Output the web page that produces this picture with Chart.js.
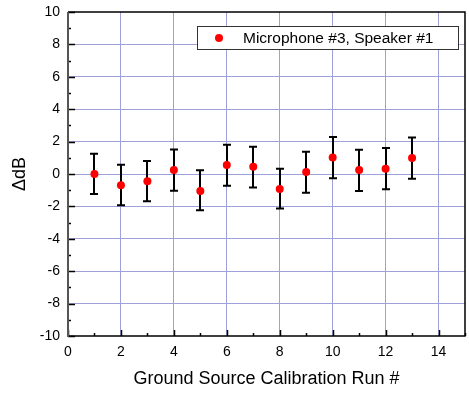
<!DOCTYPE html>
<html>
<head>
<meta charset="utf-8">
<script src="https://cdn.jsdelivr.net/npm/chart.js@4.4.1/dist/chart.umd.min.js"></script>
<style>
  html, body { margin: 0; padding: 0; background: #fff; }
  #wrap { width: 469px; height: 394px; }
</style>
</head>
<body>
<div id="wrap"><canvas id="c" width="469" height="394"></canvas></div>
<script>
// run numbers and measured offsets
const runs = [1, 2, 3, 4, 5, 6, 7, 8, 9, 10, 11, 12, 13];
const deltaDb = [0.0, -0.70, -0.45, 0.25, -1.05, 0.55, 0.45, -0.92, 0.12, 1.02, 0.25, 0.33, 0.98];
const errHigh = [1.25, 1.27, 1.25, 1.27, 1.28, 1.25, 1.23, 1.25, 1.25, 1.26, 1.25, 1.27, 1.28];
const errLow = [1.23, 1.23, 1.23, 1.28, 1.19, 1.27, 1.29, 1.21, 1.27, 1.29, 1.30, 1.27, 1.27];
const seriesLabel = "Microphone #3, Speaker #1";
const xTickLabels = ["0", "2", "4", "6", "8", "10", "12", "14"];

const FONT = "'Liberation Sans', Arial, sans-serif";
const GRID = "#a0a0d8";

// error bars, inward ticks, frame and legend box
const decorations = {
  id: "decorations",
  beforeDatasetsDraw(chart) {
    const { ctx, scales: { x, y } } = chart;
    ctx.save();
    ctx.lineWidth = 2;
    ctx.strokeStyle = "#000";
    runs.forEach((r, i) => {
      const px = Math.round(x.getPixelForValue(r));
      const top = y.getPixelForValue(deltaDb[i] + errHigh[i]);
      const bot = y.getPixelForValue(deltaDb[i] - errLow[i]);
      ctx.beginPath();
      ctx.moveTo(px, top); ctx.lineTo(px, bot);
      ctx.moveTo(px - 4, top); ctx.lineTo(px + 4, top);
      ctx.moveTo(px - 4, bot); ctx.lineTo(px + 4, bot);
      ctx.stroke();
    });
    ctx.restore();
  },
  afterDraw(chart) {
    const { ctx, chartArea: a, scales: { x, y } } = chart;
    ctx.save();
    ctx.strokeStyle = "#000";
    ctx.lineWidth = 1.5;
    // inward ticks
    for (let v = 0; v <= 15; v++) {
      const px = Math.round(x.getPixelForValue(v)) + 0.5;
      const len = v % 2 === 0 ? 6 : 3;
      ctx.beginPath();
      ctx.moveTo(px, a.bottom); ctx.lineTo(px, a.bottom - len);
      ctx.stroke();
    }
    for (let v = -10; v <= 10; v++) {
      const py = Math.round(y.getPixelForValue(v)) + 0.5;
      const len = v % 2 === 0 ? 7 : 3;
      ctx.beginPath();
      ctx.moveTo(a.left, py); ctx.lineTo(a.left + len, py);
      ctx.stroke();
    }
    // frame
    ctx.beginPath();
    ctx.moveTo(a.left, a.top); ctx.lineTo(a.right, a.top);
    ctx.lineTo(a.right, a.bottom); ctx.lineTo(a.left, a.bottom);
    ctx.stroke();
    ctx.strokeStyle = "#555";
    ctx.lineWidth = 2;
    ctx.beginPath();
    ctx.moveTo(a.left, a.top); ctx.lineTo(a.left, a.bottom + 1);
    ctx.stroke();

    // legend box
    const bx = 197, by = 26, bw = 261, bh = 23;
    ctx.fillStyle = "#fff";
    ctx.fillRect(bx, by, bw, bh);
    ctx.strokeStyle = "#333";
    ctx.lineWidth = 1;
    ctx.strokeRect(bx + 0.5, by + 0.5, bw, bh);
    ctx.fillStyle = "#ff0000";
    ctx.beginPath();
    ctx.arc(bx + 22, by + 12, 4, 0, Math.PI * 2);
    ctx.fill();
    ctx.fillStyle = "#000";
    ctx.font = "15.5px " + FONT;
    ctx.textBaseline = "middle";
    ctx.fillText(seriesLabel, bx + 46, by + 12.5);
    ctx.restore();
  }
};

new Chart(document.getElementById("c"), {
  type: "scatter",
  data: {
    datasets: [{
      label: seriesLabel,
      data: runs.map((r, i) => ({ x: r, y: deltaDb[i] })),
      backgroundColor: "#ff0000",
      borderColor: "#ff0000",
      pointRadius: 4,
      pointBorderWidth: 0,
    }]
  },
  options: {
    responsive: false,
    animation: false,
    layout: { padding: { left: 0, right: 2, top: 12, bottom: 0 } },
    plugins: { legend: { display: false }, tooltip: { enabled: false } },
    scales: {
      x: {
        type: "linear",
        min: 0, max: 15,
        afterBuildTicks(s) {
          s.ticks = xTickLabels.map(t => ({ value: Number(t) }));
        },
        afterFit(s) { s.height = 58; s.paddingLeft = 0; s.paddingRight = 0; },
        grid: {
          color: (c) => (c.tick && (c.tick.value === 0) ? "rgba(0,0,0,0)" : GRID),
          lineWidth: 1,
          drawTicks: false,
        },
        border: { display: false },
        ticks: {
          padding: 8,
          color: "#000",
          font: { family: FONT, size: 14 },
          callback: (v) => String(v),
        },
        title: {
          display: true,
          text: "Ground Source Calibration Run #",
          color: "#000",
          font: { family: FONT, size: 18 },
          padding: { top: 4, bottom: 4 },
        }
      },
      y: {
        min: -10, max: 10,
        afterBuildTicks(s) {
          const t = [];
          for (let v = -10; v <= 10; v += 2) t.push({ value: v });
          s.ticks = t;
        },
        afterFit(s) { s.width = 68; s.paddingTop = 0; s.paddingBottom = 0; },
        grid: {
          color: (c) => (c.tick && Math.abs(c.tick.value) === 10 ? "rgba(0,0,0,0)" : GRID),
          lineWidth: 1,
          drawTicks: false,
        },
        border: { display: false },
        ticks: {
          padding: 8,
          color: "#000",
          font: { family: FONT, size: 14 },
        },
        title: {
          display: true,
          text: "ΔdB",
          color: "#000",
          font: { family: FONT, size: 18 },
          padding: { top: 9, bottom: 0 },
        }
      }
    }
  },
  plugins: [decorations]
});
</script>
</body>
</html>
